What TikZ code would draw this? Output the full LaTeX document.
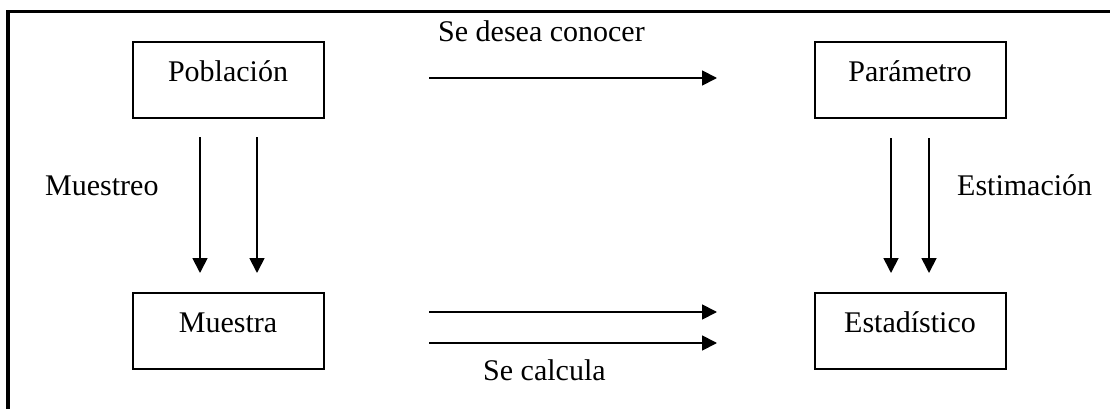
\documentclass[tikz,border=0pt]{standalone}
\usepackage{fontspec}
\setmainfont{Liberation Serif}
\usetikzlibrary{arrows.meta}
\tikzset{
  box/.style={draw, line width=2pt, minimum width=191pt, minimum height=76pt, inner sep=0pt, outer sep=0pt, text height=21pt, text depth=18pt, font=\fontsize{30}{36}\selectfont},
  lbl/.style={inner sep=0pt, anchor=base west, font=\fontsize{30}{36}\selectfont},
  arr/.style={line width=1.8pt, -{Triangle[length=15pt,width=15pt]}},
  frame/.style={line width=3.5pt}
}
\begin{document}
\begin{tikzpicture}[x=1pt,y=-1pt]
\useasboundingbox (0,0) rectangle (1110,409);
\coordinate (fb) at (8,409);
\coordinate (fc) at (8,11.5);
\coordinate (fr) at (1110,11.5);
\draw[frame] (fb) -- (fc) -- (fr);
\node[box] (pob) at (228,80.5) {Población};
\node[box] (par) at (910,80.5) {Parámetro};
\node[box] (mue) at (228,330.5) {Muestra};
\node[box] (est) at (910,330.5) {Estadístico};
% top arrow
\draw[arr, shorten <=105.5pt, shorten >=97.5pt] ([yshift=2.5pt]pob.east) -- ([yshift=2.5pt]par.west);
% bottom arrows
\draw[arr, shorten <=105.5pt, shorten >=97.5pt] ([yshift=18.5pt]mue.east) -- ([yshift=18.5pt]est.west);
\draw[arr, shorten <=105.5pt, shorten >=97.5pt] ([yshift=-12.5pt]mue.east) -- ([yshift=-12.5pt]est.west);
% left down arrows
\draw[arr, shorten <=18.5pt, shorten >=19.5pt] ([xshift=-28pt]pob.south) -- ([xshift=-28pt]mue.north);
\draw[arr, shorten <=18.5pt, shorten >=19.5pt] ([xshift=29pt]pob.south) -- ([xshift=29pt]mue.north);
% right down arrows
\draw[arr, shorten <=19.5pt, shorten >=19.5pt] ([xshift=-19pt]par.south) -- ([xshift=-19pt]est.north);
\draw[arr, shorten <=19.5pt, shorten >=19.5pt] ([xshift=19pt]par.south) -- ([xshift=19pt]est.north);
% labels
\node[lbl] (l1) at (438,42) {Se desea conocer};
\node[lbl] (l2) at (45,195) {Muestreo};
\node[lbl] (l3) at (957,195) {Estimación};
\node[lbl] (l4) at (483,380) {Se calcula};
\end{tikzpicture}
\end{document}
